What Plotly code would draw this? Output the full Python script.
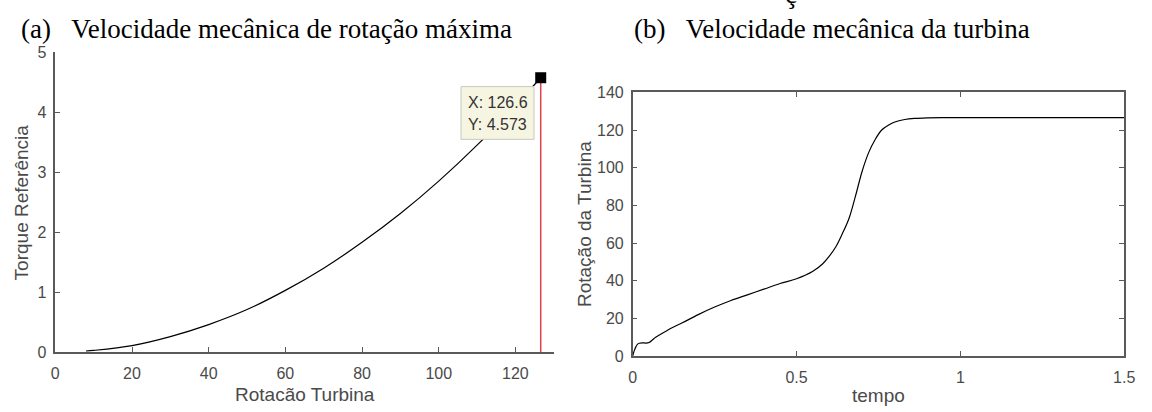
import plotly.graph_objects as go

# ---- data: panel (a) ----
rot_turbina = [8, 10, 20, 30, 40, 50, 60, 70, 80, 90, 100, 110, 120, 126.6]
torque_ref = [0.02, 0.03, 0.11, 0.26, 0.46, 0.71, 1.03, 1.40, 1.83, 2.31, 2.85, 3.45, 4.11, 4.573]
tip_x = [126.6]
tip_y = [4.573]

# ---- data: panel (b) ----
tempo = [0, 0.005, 0.01, 0.015, 0.02, 0.03, 0.04, 0.05, 0.06, 0.07, 0.08, 0.1, 0.12, 0.15,
         0.2, 0.25, 0.3, 0.35, 0.4, 0.45, 0.5, 0.55, 0.58, 0.6, 0.62, 0.64, 0.66, 0.68,
         0.70, 0.72, 0.74, 0.76, 0.78, 0.8, 0.83, 0.86, 0.9, 0.95, 1.0, 1.2, 1.5]
rotacao = [0, 3, 5, 6.3, 6.8, 7.0, 6.9, 7.2, 8.5, 10, 11, 13, 15, 17.5,
           22, 26, 29.5, 32.5, 35.5, 38.5, 41, 45, 49, 53, 58, 65, 73, 85,
           98, 108, 115, 120, 122.5, 124.3, 125.6, 126.2, 126.5, 126.6, 126.6, 126.6, 126.6]

x_ticks_a = [0, 20, 40, 60, 80, 100, 120]
y_ticks_a = [0, 1, 2, 3, 4, 5]
x_ticks_b = [0, 0.5, 1, 1.5]
y_ticks_b = [0, 20, 40, 60, 80, 100, 120, 140]

W, H = 1152, 412
def px(x):
    return x / W
def py(y):
    return 1 - y / H

SANS = "Liberation Sans, Arial, sans-serif"
SERIF = "Liberation Serif, Times New Roman, serif"
AX = "#5a5a5a"
TXT = "#4a4a4a"

fig = go.Figure()

fig.add_trace(go.Scatter(x=rot_turbina, y=torque_ref, mode="lines", line=dict(color="black", width=1.2, shape="spline"),
                         xaxis="x", yaxis="y", showlegend=False))
fig.add_trace(go.Scatter(x=[tip_x[0], tip_x[0]], y=[0, tip_y[0]], mode="lines", line=dict(color="#e63e4c", width=1.5),
                         xaxis="x", yaxis="y", showlegend=False))
fig.add_trace(go.Scatter(x=tip_x, y=tip_y, mode="markers", marker=dict(symbol="square", size=11, color="black"),
                         xaxis="x", yaxis="y", showlegend=False, cliponaxis=False))
fig.add_trace(go.Scatter(x=tempo, y=rotacao, mode="lines", line=dict(color="black", width=1.2, shape="spline"),
                         xaxis="x2", yaxis="y2", showlegend=False))

common = dict(showgrid=False, zeroline=False, showline=True, linecolor=AX, linewidth=1.5,
              ticks="inside", ticklen=5, tickcolor=AX, tickwidth=1,
              tickfont=dict(family=SANS, size=16, color=TXT))

fig.update_layout(
    width=W, height=H, margin=dict(l=0, r=0, t=0, b=0),
    paper_bgcolor="white", plot_bgcolor="white",
    xaxis=dict(domain=[px(52), px(557)], range=[0, 130], tickvals=x_ticks_a, anchor="y",
               ticklabelstandoff=6, **common),
    yaxis=dict(domain=[py(359), py(46)], range=[0, 5], tickvals=y_ticks_a, anchor="x",
               ticklabelstandoff=4, **common),
    xaxis2=dict(domain=[px(637), px(1135)], range=[0, 1.5], tickvals=x_ticks_b, anchor="y2",
                mirror="allticks", ticklabelstandoff=6, **common),
    yaxis2=dict(domain=[py(363), py(88)], range=[0, 140], tickvals=y_ticks_b, anchor="x2",
                mirror="allticks", ticklabelstandoff=4, **common),
)

# data tip box
fig.add_shape(type="rect", xref="paper", yref="paper", x0=px(463), x1=px(537), y0=py(137), y1=py(82),
              fillcolor="#f5f5e1", line=dict(color="#c8c8c0", width=1), layer="above")

ann = []
ann.append(dict(text="X: 126.6", x=px(468), y=py(99), xanchor="left", yanchor="middle",
                font=dict(family=SANS, size=16, color="#333333")))
ann.append(dict(text="Y: 4.573", x=px(468), y=py(121), xanchor="left", yanchor="middle",
                font=dict(family=SANS, size=16, color="#333333")))
# axis titles
ann.append(dict(text="Rotacão Turbina", x=px(305), y=py(403), xanchor="center", yanchor="middle",
                font=dict(family=SANS, size=19, color=TXT)))
ann.append(dict(text="Torque Referência", x=px(18), y=py(203), xanchor="center", yanchor="middle", textangle=-90,
                font=dict(family=SANS, size=19, color=TXT)))
ann.append(dict(text="tempo", x=px(886), y=py(404), xanchor="center", yanchor="middle",
                font=dict(family=SANS, size=19, color=TXT)))
ann.append(dict(text="Rotação da Turbina", x=px(588), y=py(225), xanchor="center", yanchor="middle", textangle=-90,
                font=dict(family=SANS, size=19, color=TXT)))
# captions
ann.append(dict(text="(a)\u00a0\u00a0\u00a0Velocidade mecânica de rotação máxima", x=px(15), y=py(22),
                xanchor="left", yanchor="middle", font=dict(family=SERIF, size=27, color="black")))
ann.append(dict(text="(b)\u00a0\u00a0\u00a0Velocidade mecânica da turbina", x=px(636), y=py(22),
                xanchor="left", yanchor="middle", font=dict(family=SERIF, size=27, color="black")))
ann.append(dict(text="ç", x=px(797), y=py(-15), xanchor="center", yanchor="middle",
                font=dict(family=SERIF, size=27, color="black")))
for a in ann:
    a.update(xref="paper", yref="paper", showarrow=False)
fig.update_layout(annotations=ann)

fig.write_html("out.html")
